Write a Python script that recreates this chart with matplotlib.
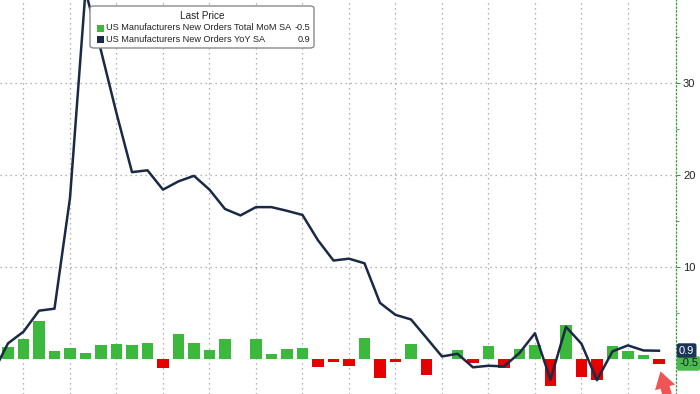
import matplotlib
matplotlib.use('Agg')
import matplotlib.pyplot as plt
from matplotlib.patches import FancyBboxPatch, Rectangle
import numpy as np

# valores (MoM em barras, YoY em linha)
mom = [1.27, 2.17, 4.17, 0.83, 1.16, 0.65, 1.49, 1.6, 1.49, 1.7, -0.98, 2.75, 1.78, 0.98,
       2.2, 0.05, 2.17, 0.58, 1.12, 1.2, -0.87, -0.3, -0.72, 2.25, -2.1, -0.29, 1.67, -1.7,
       0.05, 0.98, -0.47, 1.41, -0.98, 1.05, 1.49, -2.9, 3.73, -2.0, -2.25, 1.41, 0.83, 0.43, -0.5]
# YoY comeca um mes antes (cortado na borda esquerda)
yoy = [-1.6, 1.7, 2.97, 5.25, 5.47, 17.5, 40.0, 33.5, 26.7, 20.3, 20.5, 18.4, 19.3, 19.9,
       18.4, 16.3, 15.6, 16.5, 16.5, 16.1, 15.65, 12.9, 10.7, 10.9, 10.4, 6.1, 4.8, 4.3, 2.3,
       0.28, 0.57, -0.9, -0.73, -0.8, 0.65, 2.8, -2.25, 3.5, 1.66, -2.3, 0.83, 1.48, 0.93, 0.9]
nome_mom = 'US Manufacturers New Orders Total MoM SA'
nome_yoy = 'US Manufacturers New Orders YoY SA'
ultimo_mom = '-0.5'
ultimo_yoy = '0.9'
y_ticks = [10, 20, 30]

verde = '#3cb83c'
vermelho = '#e60000'
azul = '#1b2a44'
fonte = 'Liberation Sans'

fig = plt.figure(figsize=(7, 3.94), dpi=100)
ax = fig.add_axes([0, 0, 676 / 700, 1])

x_bar = np.arange(len(mom))
x_lin = np.arange(len(yoy)) - 1
cores = [verde if v >= 0 else vermelho for v in mom]
ax.bar(x_bar, mom, width=0.72, color=cores, zorder=2)
ax.plot(x_lin, yoy, color=azul, lw=1.8, zorder=3)

ax.set_xlim(-0.516, 43.1)
ax.set_ylim(-3.8, 39.0)

# grade pontilhada
ax.set_xticks(range(1, 41, 3))
ax.set_yticks(y_ticks)
ax.set_yticks([5, 15, 25, 35], minor=True)
ax.grid(True, which='major', color='#9a9a9a', linestyle=(0, (1, 3)), lw=0.9, zorder=0)
ax.tick_params(axis='x', length=0, labelbottom=False)
ax.yaxis.tick_right()
ax.tick_params(axis='y', which='major', direction='out', length=3, color='#3a9a3a',
               labelsize=8, labelcolor='#222222', pad=2)
ax.tick_params(axis='y', which='minor', direction='out', length=2, color='#3a9a3a')
for lab in ax.get_yticklabels():
    lab.set_family(fonte)
for s in ['left', 'top', 'bottom']:
    ax.spines[s].set_visible(False)
ax.spines['right'].set_color('#3a9a3a')
ax.spines['right'].set_linestyle((0, (1, 2)))
ax.spines['right'].set_linewidth(0.9)

W, H = 700, 394

# etiquetas do ultimo valor na direita
fig.text(679 / W, 1 - 350.5 / H, ultimo_yoy, fontsize=8, color='white', family=fonte,
         va='center', ha='left', zorder=6,
         bbox=dict(boxstyle='round,pad=0.2,rounding_size=0.2', fc='#1c3557', ec='none'))
fig.text(679 / W, 1 - 363.5 / H, ultimo_mom, fontsize=8, color='#10202e', family=fonte,
         va='center', ha='left', zorder=5,
         bbox=dict(boxstyle='round,pad=0.2,rounding_size=0.2', fc='#4cbb4c', ec='none'))

# seta vermelha apontando para a ultima barra
ax.annotate('', xy=(42.05, -1.05), xytext=(42.6, -4.3), annotation_clip=False,
            arrowprops=dict(arrowstyle='simple,head_width=1.0,head_length=0.8,tail_width=0.45',
                            color='#f05555', mutation_scale=15, lw=0))

# legenda montada a mao
caixa = FancyBboxPatch((90 / W, 1 - 48 / H), 224 / W, 42 / H, transform=fig.transFigure,
                       boxstyle='round,pad=0,rounding_size=0.006', fc='white',
                       ec='#8a8a8a', lw=1.0, zorder=10)
fig.add_artist(caixa)
fig.text(202 / W, 1 - 16 / H, 'Last Price', ha='center', va='center', fontsize=7.2,
         family=fonte, color='#222222', zorder=11)
linhas = [(nome_mom, ultimo_mom, verde, 28), (nome_yoy, ultimo_yoy, azul, 39)]
for nome, val, cor, yy in linhas:
    fig.add_artist(Rectangle((97 / W, 1 - (yy + 3.5) / H), 6.5 / W, 7 / H,
                             transform=fig.transFigure, fc=cor, ec='none', zorder=11))
    fig.text(106 / W, 1 - yy / H, nome, ha='left', va='center', fontsize=6.6,
             family=fonte, color='#222222', zorder=11)
    fig.text(310 / W, 1 - yy / H, val, ha='right', va='center', fontsize=6.6,
             family=fonte, color='#222222', zorder=11)

fig.savefig('out.png', dpi=100)
